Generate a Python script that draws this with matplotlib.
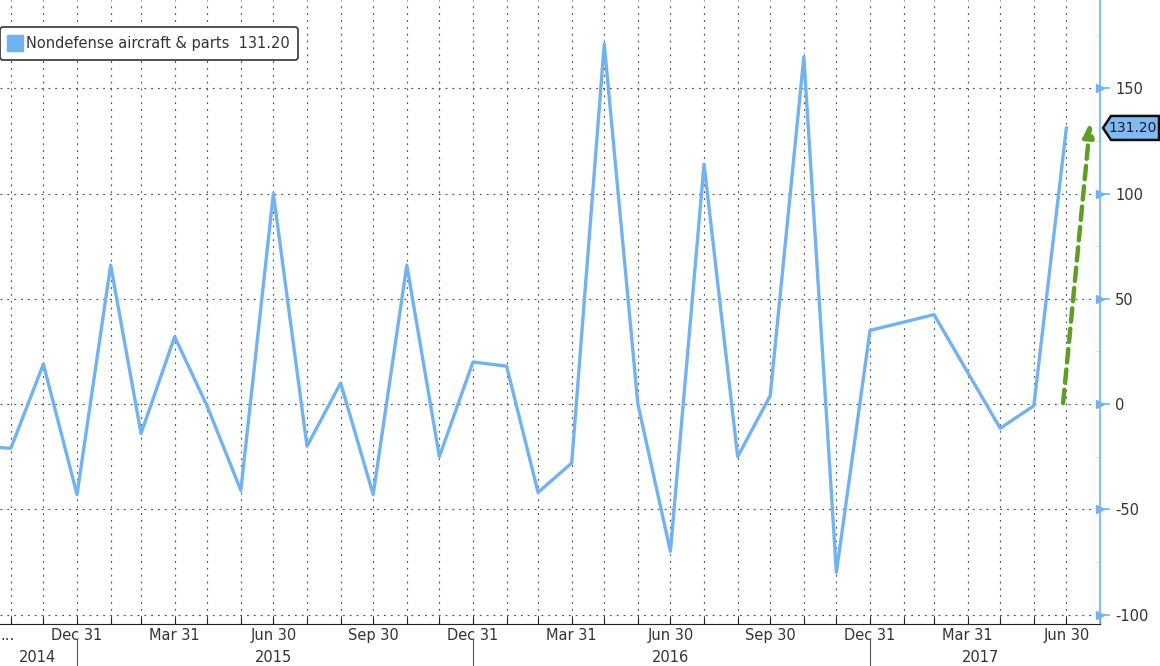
import numpy as np
import pandas as pd
import matplotlib
matplotlib.use("Agg")
import matplotlib.pyplot as plt
import matplotlib.dates as mdates
from matplotlib.patches import Polygon
from matplotlib.ticker import MultipleLocator

plt.rcParams["axes.unicode_minus"] = False

# monthly values, month-end dates (Jan 2017 and Mar 2017 not plotted)
months = ["2014-09-30", "2014-10-31", "2014-11-30", "2014-12-31",
          "2015-01-31", "2015-02-28", "2015-03-31", "2015-04-30", "2015-05-31", "2015-06-30",
          "2015-07-31", "2015-08-31", "2015-09-30", "2015-10-31", "2015-11-30", "2015-12-31",
          "2016-01-31", "2016-02-29", "2016-03-31", "2016-04-30", "2016-05-31", "2016-06-30",
          "2016-07-31", "2016-08-31", "2016-09-30", "2016-10-31", "2016-11-30", "2016-12-31",
          "2017-02-28", "2017-04-30", "2017-05-31", "2017-06-30"]
values = [-20, -21, 19, -43,
          66, -14, 32, -1, -41, 100,
          -20, 10, -43, 66, -25, 20,
          18, -42, -28, 171, 0, -70,
          114, -25, 4, 165, -80, 35,
          42.5, -11.5, -0.8, 131.2]

series_name = "Nondefense aircraft & parts"
last_value = 131.2

tick_dates = ["2014-12-31", "2015-03-31", "2015-06-30", "2015-09-30", "2015-12-31",
              "2016-03-31", "2016-06-30", "2016-09-30", "2016-12-31", "2017-03-31", "2017-06-30"]
tick_labels = ["Dec 31", "Mar 31", "Jun 30", "Sep 30", "Dec 31",
               "Mar 31", "Jun 30", "Sep 30", "Dec 31", "Mar 31", "Jun 30"]
year_labels = ["2014", "2015", "2016", "2017"]
year_centers = ["2014-11-25", "2015-06-30", "2016-06-30", "2017-04-12"]
year_breaks = ["2014-12-31", "2015-12-31", "2016-12-31"]

line_color = "#72B2EE"
text_color = "#333333"

dates = pd.to_datetime(months)
fig = plt.figure(figsize=(11.6, 6.66), dpi=100)
ax = fig.add_axes([0.0, 42 / 666, 1100 / 1160, 624 / 666])

ax.plot(dates, values, color=line_color, lw=2.4, zorder=3)

ax.set_xlim(pd.Timestamp("2014-10-21"), pd.Timestamp("2017-07-30"))
ax.set_ylim(-104.5, 192)

# grid: every month-end vertically, every 50 horizontally
month_grid = pd.date_range("2014-10-31", "2017-07-31", freq="ME")
for d in month_grid:
    ax.axvline(d, color="#555555", lw=0.85, ls=(0, (1.6, 4.2)), zorder=1)
for v in range(-100, 151, 50):
    ax.axhline(v, color="#555555", lw=0.85, ls=(0, (1.6, 4.2)), zorder=1)

# spines
for s in ["top", "left"]:
    ax.spines[s].set_visible(False)
ax.spines["right"].set_color(line_color)
ax.spines["right"].set_linewidth(1.2)
ax.spines["bottom"].set_color("#222222")

# y axis on right
ax.yaxis.tick_right()
ax.yaxis.set_major_locator(MultipleLocator(50))
ax.yaxis.set_minor_locator(MultipleLocator(25))
ax.tick_params(axis="y", which="major", length=0, pad=11, labelsize=10.5, labelcolor=text_color)
ax.tick_params(axis="y", which="minor", length=3, color="#C8DDF0", direction="in")
ytr = ax.get_yaxis_transform()
for v in range(-100, 151, 50):
    ax.plot([1.0], [v], marker=">", ms=6, color=line_color, transform=ytr, clip_on=False, zorder=5)
    ax.plot([1.0, 1.008], [v, v], color=line_color, lw=1.2, transform=ytr, clip_on=False)

# x axis
ax.set_xticks(mdates.date2num(month_grid))
ax.set_xticklabels([])
ax.tick_params(axis="x", length=5, direction="in", color="#222222")
xtr = ax.get_xaxis_transform()
for d, lab in zip(pd.to_datetime(tick_dates), tick_labels):
    ax.text(d, -0.007, lab, transform=xtr, ha="center", va="top", fontsize=10.5, color=text_color)
ax.text(pd.Timestamp("2014-10-28"), -0.007, "...", transform=xtr, ha="center", va="top",
        fontsize=10.5, color=text_color)
for d, lab in zip(pd.to_datetime(year_centers), year_labels):
    ax.text(d, -0.041, lab, transform=xtr, ha="center", va="top", fontsize=10.5, color=text_color)
for d in pd.to_datetime(year_breaks):
    ax.plot([d, d], [-0.025, -0.07], color="#555555", lw=0.8, transform=xtr, clip_on=False)

# legend
h = ax.plot([], [], ls="none", marker="s", ms=11, color=line_color)[0]
leg = ax.legend([h], [f"{series_name}  {last_value:.2f}"], loc="upper left",
                bbox_to_anchor=(0.0, 1 - 27 / 624), borderaxespad=0, fontsize=10.5,
                handlelength=0.8, handletextpad=0.35, borderpad=0.6,
                fancybox=True, framealpha=1, edgecolor="#333333")
leg.get_frame().set_linewidth(1.2)
for t in leg.get_texts():
    t.set_color(text_color)

# last value tag on the right axis
fig.canvas.draw()
xr, yv = ax.transAxes.transform((1.0, 0.0))[0], ax.transData.transform((0, last_value))[1]
hh = 12
tag = Polygon([[xr + 3, yv], [xr + 11, yv + hh], [xr + 59, yv + hh],
               [xr + 59, yv - hh], [xr + 11, yv - hh]], closed=True, transform=None,
              facecolor="#7FBBF2", edgecolor="#111111", lw=1.8, zorder=6)
fig.patches.append(tag)
fig.text((xr + 33) / 1160, yv / 666, f"{last_value:.2f}", ha="center", va="center",
         fontsize=10, color="#1a1a1a", zorder=7)

# green dashed arrow
ax.annotate("", xy=(pd.Timestamp("2017-07-22"), 134), xytext=(pd.Timestamp("2017-06-27"), 0.5),
            arrowprops=dict(arrowstyle="-|>,head_width=0.3,head_length=0.8", color="#5E9E22",
                            lw=3.2, ls=(0, (3, 1.6)), shrinkA=0, shrinkB=0), zorder=4)

fig.savefig("out.png", dpi=100)
